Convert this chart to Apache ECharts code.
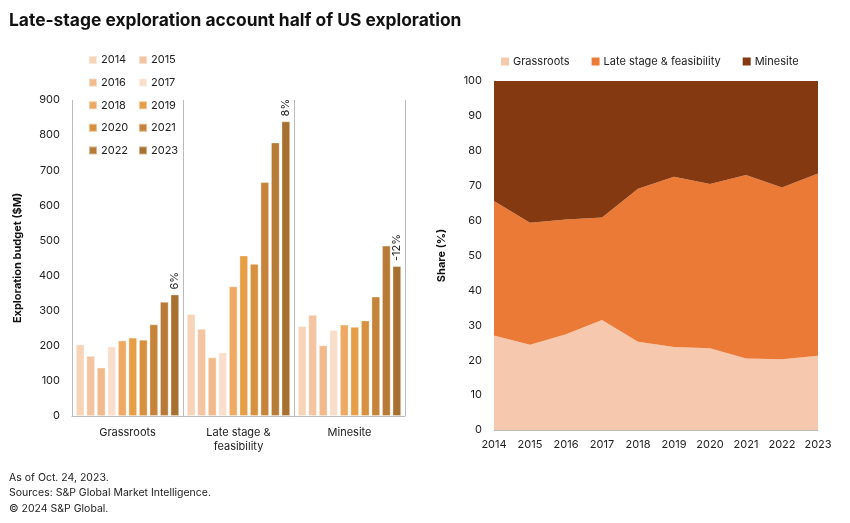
<!DOCTYPE html>
<html>
<head>
<meta charset="utf-8">
<script src="https://cdn.jsdelivr.net/npm/echarts@6/dist/echarts.min.js"></script>
<style>
  html, body { margin: 0; padding: 0; background: #fff; }
  #chart { width: 850px; height: 523px; }
</style>
</head>
<body>
<div id="chart"></div>
<script>
// ---- Data ----
var years = ['2014','2015','2016','2017','2018','2019','2020','2021','2022','2023'];
var stageCategories = ['Grassroots', 'Late stage &\nfeasibility', 'Minesite'];
// Exploration budget ($M) per year
var grassrootsBudget = [204, 171, 138, 198, 215, 223, 217, 261, 325, 346];
var lateStageBudget  = [290, 248, 167, 181, 369, 457, 433, 666, 779, 839];
var minesiteBudget   = [256, 288, 201, 245, 260, 254, 272, 340, 485, 427];
// Change labels 2022->2023
var changeLabels = ['6%', '8%', '-12%'];
// Share (%)
var grassrootsShare = [27.1, 24.4, 27.4, 31.5, 25.3, 23.8, 23.4, 20.5, 20.3, 21.3];
var lateStageShare  = [38.5, 35.0, 32.9, 29.4, 43.8, 48.8, 47.1, 52.6, 49.2, 52.2];
var minesiteShare   = [34.4, 40.6, 39.7, 39.1, 30.9, 27.4, 29.5, 26.9, 30.5, 26.5];
var budgetTicks = [0, 900, 100];
var shareTicks = [0, 100, 10];

// ---- Styles ----
var yearColors = ['#F7D4B8','#F4C4A0','#F2B98B','#F8DECB','#EFA962','#E79F47','#D6903E','#C5843A','#B87B37','#A87030'];
var shareColors = ['#F6C8AD', '#EC7A37', '#843910'];
var FONT = 'Inter, "Liberation Sans", Arial, sans-serif';
var textColor = '#222';
var lineColor = '#bbbbbb';

var barSeries = years.map(function (y, i) {
  var s = {
    name: y,
    type: 'bar',
    xAxisIndex: 0,
    yAxisIndex: 0,
    data: [grassrootsBudget[i], lateStageBudget[i], minesiteBudget[i]],
    barGap: '23%',
    barCategoryGap: '7%',
    itemStyle: { color: yearColors[i], borderColor: 'rgba(255,255,255,0.45)', borderWidth: 0.8 },
    emphasis: { disabled: true }
  };
  if (i === years.length - 1) {
    s.label = {
      show: true,
      position: 'top',
      rotate: 90,
      align: 'left',
      verticalAlign: 'middle',
      distance: 5,
      fontFamily: FONT,
      fontSize: 11,
      color: textColor,
      formatter: function (p) { return changeLabels[p.dataIndex]; }
    };
  }
  return s;
});

var shareNames = ['Grassroots', 'Late stage & feasibility', 'Minesite'];
var shareData = [grassrootsShare, lateStageShare, minesiteShare];
var areaSeries = shareNames.map(function (n, i) {
  return {
    name: n,
    type: 'line',
    xAxisIndex: 1,
    yAxisIndex: 1,
    stack: 'share',
    data: shareData[i],
    symbol: 'none',
    lineStyle: { width: 0 },
    areaStyle: { color: shareColors[i], opacity: 1 },
    itemStyle: { color: shareColors[i] },
    emphasis: { disabled: true }
  };
});

var chart = echarts.init(document.getElementById('chart'), null, { renderer: 'canvas' });
chart.setOption({
  animation: false,
  backgroundColor: '#ffffff',
  textStyle: { fontFamily: FONT, color: textColor },
  title: [
    { text: 'Late-stage exploration account half of US exploration', left: 4, top: 7,
      textStyle: { fontFamily: FONT, fontSize: 17.4, fontWeight: 'bold', color: '#111' } },
    { text: 'As of Oct. 24, 2023.\nSources: S&P Global Market Intelligence.\n\u00A9 2024 S&P Global.', left: 4, top: 465,
      textStyle: { fontFamily: FONT, fontSize: 10.5, fontWeight: 'normal', color: '#222', lineHeight: 15.5 } }
  ],
  legend: [
    { data: ['2014','2016','2018','2020','2022'], orient: 'vertical', left: 83, top: 48, itemWidth: 8, itemHeight: 8, itemGap: 8.6,
      icon: 'rect', textStyle: { fontFamily: FONT, fontSize: 11, color: textColor, padding: [0,0,0,-1], lineHeight: 14 }, selectedMode: false },
    { data: ['2015','2017','2019','2021','2023'], orient: 'vertical', left: 133, top: 48, itemWidth: 8, itemHeight: 8, itemGap: 8.6,
      icon: 'rect', textStyle: { fontFamily: FONT, fontSize: 11, color: textColor, padding: [0,0,0,-1], lineHeight: 14 }, selectedMode: false },
    { data: shareNames, orient: 'horizontal', left: 496, top: 51, itemWidth: 8, itemHeight: 8, itemGap: 22,
      icon: 'rect', textStyle: { fontFamily: FONT, fontSize: 11, color: textColor, padding: [0,0,0,-1] }, selectedMode: false }
  ],
  grid: [
    { left: 72, right: 445, top: 100, bottom: 107 },
    { left: 494, right: 32, top: 81, bottom: 93 }
  ],
  xAxis: [
    { type: 'category', gridIndex: 0, data: stageCategories, boundaryGap: true,
      axisLine: { show: true, lineStyle: { color: lineColor, width: 1 } },
      axisTick: { show: false },
      splitLine: { show: true, lineStyle: { color: lineColor, width: 1 } },
      axisLabel: { fontFamily: FONT, fontSize: 11, color: textColor, margin: 10, lineHeight: 14 } },
    { type: 'category', gridIndex: 1, data: years, boundaryGap: false,
      axisLine: { show: true, lineStyle: { color: lineColor, width: 1 } },
      axisTick: { show: false },
      axisLabel: { fontFamily: FONT, fontSize: 11, color: textColor, margin: 9 } }
  ],
  yAxis: [
    { type: 'value', gridIndex: 0, min: budgetTicks[0], max: budgetTicks[1], interval: budgetTicks[2],
      name: 'Exploration budget ($M)', nameLocation: 'middle', nameGap: 49, nameRotate: 90,
      nameTextStyle: { fontFamily: FONT, fontSize: 11, fontWeight: 'bold', color: '#111' },
      axisLine: { show: false }, axisTick: { show: false }, splitLine: { show: false },
      axisLabel: { fontFamily: FONT, fontSize: 11, color: textColor, margin: 12 } },
    { type: 'value', gridIndex: 1, min: shareTicks[0], max: shareTicks[1], interval: shareTicks[2],
      name: 'Share (%)', nameLocation: 'middle', nameGap: 47, nameRotate: 90,
      nameTextStyle: { fontFamily: FONT, fontSize: 11, fontWeight: 'bold', color: '#111' },
      axisLine: { show: true, lineStyle: { color: lineColor, width: 1 } }, axisTick: { show: false }, splitLine: { show: false },
      axisLabel: { fontFamily: FONT, fontSize: 11, color: textColor, margin: 12 } }
  ],
  series: barSeries.concat(areaSeries)
});
</script>
</body>
</html>
